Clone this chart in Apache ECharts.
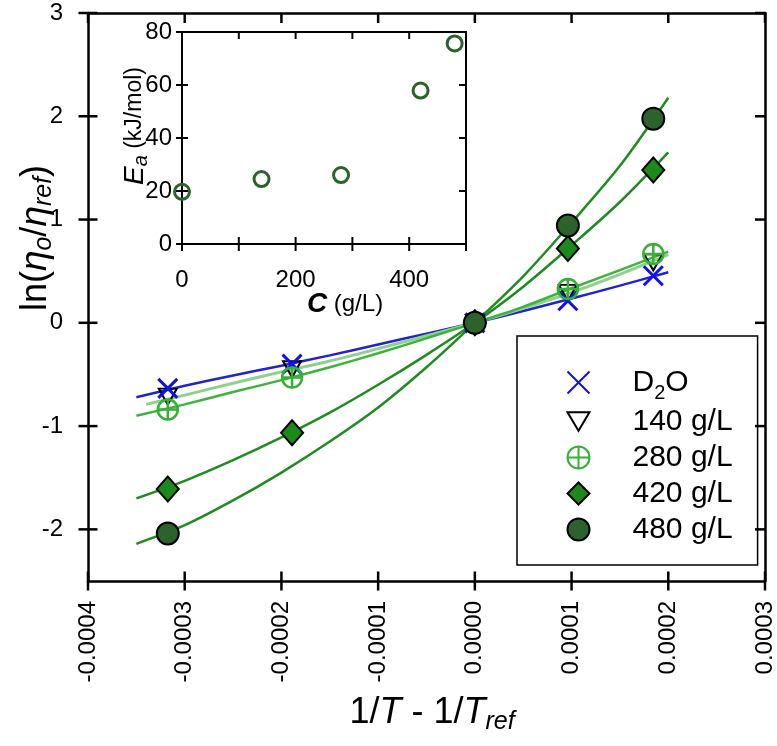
<!DOCTYPE html>
<html>
<head>
<meta charset="utf-8">
<script src="https://cdn.jsdelivr.net/npm/echarts@6/dist/echarts.min.js"></script>
<style>
  html, body { margin: 0; padding: 0; background: #fff; }
  #chart { width: 777px; height: 746px; }
</style>
</head>
<body>
<div id="chart"></div>
<script>
// main axes
const xMin = -0.0004, xMax = 0.0003, yMin = -2.5, yMax = 3
const xTicks = [-0.0004, -0.0003, -0.0002, -0.0001, 0, 0.0001, 0.0002, 0.0003]
const yTicks = [-2, -1, 0, 1, 2, 3]

// measured points, ln(eta0/eta_ref) vs 1/T - 1/Tref
const tempX = [-0.0003175, -0.000189, 0, 0.0000962, 0.0001845]
const lnD2O = [-0.635, -0.40, 0, 0.214, 0.456]
const ln140 = [-0.715, -0.45, 0, 0.29, 0.585]
const ln280 = [-0.84, -0.53, 0, 0.327, 0.667]
const ln420 = [-1.61, -1.065, 0, 0.72, 1.48]
const ln480 = [-2.04, null, 0, 0.942, 1.977]

// fitted curves
const fitX = [-0.00035, -0.0003, -0.00025, -0.0002, -0.00015, -0.0001, -0.00005, 0, 0.00005, 0.0001, 0.00015, 0.0002]
const fitX140 = [-0.00034, -0.0003, -0.00025, -0.0002, -0.00015, -0.0001, -0.00005, 0, 0.00005, 0.0001, 0.00015, 0.0002]
const fitD2O = [-0.72, -0.61, -0.51, -0.415, -0.315, -0.21, -0.105, 0, 0.115, 0.235, 0.36, 0.49]
const fit140 = [-0.79, -0.70, -0.585, -0.475, -0.37, -0.25, -0.125, 0, 0.14, 0.295, 0.47, 0.66]
const fit280 = [-0.90, -0.79, -0.67, -0.555, -0.43, -0.295, -0.15, 0, 0.155, 0.335, 0.51, 0.69]
const fit420 = [-1.70, -1.53, -1.33, -1.11, -0.87, -0.60, -0.31, 0, 0.35, 0.75, 1.17, 1.65]
const fit480 = [-2.14, -1.96, -1.72, -1.45, -1.15, -0.82, -0.43, 0, 0.45, 0.97, 1.52, 2.18]

// inset: activation energy vs concentration
const cMin = 0, cMax = 500, eMin = 0, eMax = 80
const insetC = [0, 140, 280, 420, 480]
const insetEa = [19.7, 24.5, 26, 57.9, 75.7]
const insetXTicks = [0, 100, 200, 300, 400, 500]
const insetXLabels = [0, 200, 400]
const insetYTicks = [0, 20, 40, 60, 80]

const FONT = "'Liberation Sans', Arial, Helvetica, sans-serif"
const chart = echarts.init(document.getElementById('chart'))

const pairs = (xs, ys) => xs.map((x, i) => [x, ys[i]]).filter(p => p[1] !== null)

function ax(grid, pos, min, max, interval, lineW, label) {
  return {
    type: 'value', gridIndex: grid, position: pos, min, max, interval,
    splitLine: { show: false },
    axisLine: { show: true, onZero: false, lineStyle: { color: '#000', width: lineW } },
    axisTick: { show: false },
    axisLabel: label ? Object.assign({ show: true, fontSize: 24, fontFamily: FONT, color: '#000' }, label) : { show: false }
  }
}

const fmtX = v => Math.abs(v) < 1e-12 ? '0.0000' : v.toFixed(4)

const xAxes = [
  ax(0, 'bottom', xMin, xMax, 0.0001, 2.5, { customValues: xTicks, rotate: 90, margin: 20, formatter: fmtX }),
  ax(0, 'top', xMin, xMax, 0.0001, 2.5, null),
  ax(1, 'bottom', cMin, cMax, 100, 2, { customValues: insetXLabels, margin: 24 }),
  ax(1, 'top', cMin, cMax, 100, 2, null)
]
const yAxes = [
  ax(0, 'left', yMin, yMax, 0.5, 2.5, { customValues: yTicks, margin: 25 }),
  ax(0, 'right', yMin, yMax, 0.5, 2.5, null),
  ax(1, 'left', eMin, eMax, 20, 2, { customValues: insetYTicks, margin: 10 }),
  ax(1, 'right', eMin, eMax, 20, 2, null)
]

// tick marks: short black bars set on the frame through the axis scales
// (left/bottom cross the frame, top/right point inward)
const tickMarks = (axisIdx, data, size, offset) => ({
  type: 'scatter', xAxisIndex: axisIdx, yAxisIndex: axisIdx, clip: false,
  data, symbol: 'rect', symbolSize: size, symbolOffset: offset,
  itemStyle: { color: '#000', opacity: 1 }, z: 9
})

const fitLine = (name, xs, ys, color, width) => ({
  name, type: 'line', xAxisIndex: 0, yAxisIndex: 0,
  data: pairs(xs, ys), smooth: 0.3, symbol: 'none',
  lineStyle: { color, width }, z: 2, silent: true
})

const SYM_X = 'path://M0,0L10,10M10,0L0,10'
const SYM_TRI = 'path://M0,0L20,0L10,17Z'
const SYM_OPLUS = 'path://M0,10A10,10,0,1,1,20,10A10,10,0,1,1,0,10ZM10,0L10,20M0,10L20,10'

const pts = (name, ys, symbol, size, itemStyle, z) => ({
  name, type: 'scatter', xAxisIndex: 0, yAxisIndex: 0,
  data: pairs(tempX, ys), symbol, symbolSize: size,
  itemStyle: Object.assign({ opacity: 1 }, itemStyle), z
})

chart.setOption({
  animation: false,
  grid: [
    { left: 88, top: 13, width: 680, height: 568 },
    { left: 182, top: 32, width: 284, height: 212 }
  ],
  xAxis: xAxes,
  yAxis: yAxes,
  legend: {
    data: ['D2O', '140 g/L', '280 g/L', '420 g/L', '480 g/L'],
    orient: 'vertical', left: 517, top: 336,
    padding: [26, 25, 18, 48], itemGap: 1,
    itemWidth: 22, itemHeight: 22,
    borderColor: '#000', borderWidth: 1.5,
    selectedMode: false,
    formatter: n => n === 'D2O' ? 'D{sub|2}O' : n,
    textStyle: {
      fontSize: 30, fontFamily: FONT, color: '#000', lineHeight: 35,
      padding: [0, 0, 0, 38],
      rich: { sub: { fontSize: 20, fontFamily: FONT, lineHeight: 20, padding: [21, 0, 0, 0] } }
    }
  },
  series: [
    fitLine('fit D2O', fitX, fitD2O, '#2222d0', 2.5),
    fitLine('fit 140', fitX140, fit140, '#8fd08f', 3),
    fitLine('fit 280', fitX, fit280, '#3cb43c', 2.5),
    fitLine('fit 420', fitX, fit420, '#1f8c1f', 2.5),
    fitLine('fit 480', fitX, fit480, '#1f8c1f', 2.5),
    pts('140 g/L', ln140, SYM_TRI, [18, 16], { color: 'none', borderColor: '#000', borderWidth: 2 }, 3),
    pts('D2O', lnD2O, SYM_X, 19, { color: 'none', borderColor: '#1010e8', borderWidth: 3 }, 4),
    pts('280 g/L', ln280, SYM_OPLUS, 20, { color: 'none', borderColor: '#36b036', borderWidth: 2.5 }, 5),
    pts('420 g/L', ln420, 'diamond', [22, 25], { color: '#1b8a1b', borderColor: '#000', borderWidth: 2 }, 6),
    pts('480 g/L', ln480, 'circle', 22, { color: '#2c632c', borderColor: '#000', borderWidth: 2 }, 7),
    {
      name: 'Ea', type: 'scatter', xAxisIndex: 2, yAxisIndex: 2,
      data: pairs(insetC, insetEa), symbol: 'circle', symbolSize: 15,
      itemStyle: { opacity: 1, color: 'none', borderColor: '#2c632c', borderWidth: 3 }, z: 8
    },
    // main frame ticks
    tickMarks(0, yTicks.map(v => [xMin, v]), [19, 2.5], [0, 0]),
    tickMarks(0, yTicks.map(v => [xMax, v]), [10, 2.5], [-5, 0]),
    tickMarks(0, xTicks.map(v => [v, yMin]), [2.5, 19], [0, 0]),
    tickMarks(0, xTicks.map(v => [v, yMax]), [2.5, 10], [0, 5]),
    // inset frame ticks
    tickMarks(2, insetYTicks.map(v => [cMin, v]), [12, 2], [0, 0]),
    tickMarks(2, insetYTicks.map(v => [cMax, v]), [7, 2], [-3.5, 0]),
    tickMarks(2, insetXTicks.map(v => [v, eMin]), [2, 14], [0, 0]),
    tickMarks(2, insetXTicks.map(v => [v, eMax]), [2, 7], [0, 3.5])
  ],
  graphic: [
    {
      type: 'text', x: 36, y: 238, rotation: Math.PI / 2,
      style: {
        text: 'ln({g|η}{s|o}/{g|η}{s|ref})',
        fontSize: 36, fontFamily: FONT, fill: '#000', align: 'center', verticalAlign: 'middle',
        rich: {
          g: { fontSize: 37, fontFamily: FONT, fontStyle: 'italic' },
          s: { fontSize: 25, fontFamily: FONT, fontStyle: 'italic', lineHeight: 25, padding: [17, 0, 0, 0] }
        }
      }
    },
    {
      type: 'text', x: 432, y: 713,
      style: {
        text: '1/{i|T} - 1/{i|T}{s|ref}',
        fontSize: 36, fontFamily: FONT, fill: '#000', align: 'center', verticalAlign: 'middle',
        rich: {
          i: { fontSize: 36, fontFamily: FONT, fontStyle: 'italic' },
          s: { fontSize: 25, fontFamily: FONT, fontStyle: 'italic', lineHeight: 25, padding: [19, 0, 0, 0] }
        }
      }
    },
    {
      type: 'text', x: 135, y: 126, rotation: Math.PI / 2,
      style: {
        text: '{e|E}{s|a} (kJ/mol)',
        fontSize: 23, fontFamily: FONT, fill: '#000', align: 'center', verticalAlign: 'middle',
        rich: {
          e: { fontSize: 28, fontFamily: FONT, fontStyle: 'italic' },
          s: { fontSize: 20, fontFamily: FONT, fontStyle: 'italic', lineHeight: 20, padding: [12, 0, 0, 0] }
        }
      }
    },
    {
      type: 'text', x: 345, y: 304,
      style: {
        text: '{c|C} (g/L)',
        fontSize: 24, fontFamily: FONT, fill: '#000', align: 'center', verticalAlign: 'middle',
        rich: {
          c: { fontSize: 28, fontFamily: FONT, fontStyle: 'italic', fontWeight: 'bold' }
        }
      }
    }
  ]
})
</script>
</body>
</html>
